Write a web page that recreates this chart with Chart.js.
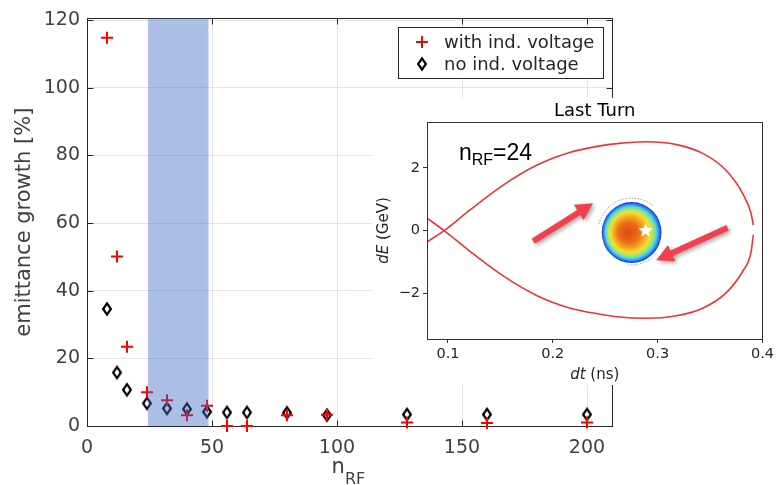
<!DOCTYPE html>
<html>
<head>
<meta charset="utf-8">
<script src="https://cdn.jsdelivr.net/npm/chart.js@4/dist/chart.umd.min.js"></script>
<style>
  body { margin: 0; background: #fff; }
  #wrap { position: relative; width: 777px; height: 485px; background: #fff; }
  #main { position: absolute; left: 0; top: 0; }
  #inset { position: absolute; left: 373px; top: 98px; background: #fff; }
</style>
</head>
<body>
<div id="wrap">
  <canvas id="main" width="777" height="485"></canvas>
  <canvas id="inset" width="404" height="287"></canvas>
</div>
<script>
// ---- emittance growth vs number of RF buckets ----
const nRF = [8, 12, 16, 24, 32, 40, 48, 56, 64, 80, 96, 128, 160, 200];
const withIndVoltage = [114.8, 50.1, 23.4, 10.0, 7.6, 3.2, 6.0, 0, 0, 3.2, 3.3, 1.0, 0.9, 1.0];
const noIndVoltage = [34.6, 15.8, 10.7, 6.7, 5.2, 5.0, 4.2, 4.0, 4.0, 3.9, 3.2, 3.4, 3.4, 3.4];
const bandRange = [24.4, 48.6];
const mainXTicks = [0, 50, 100, 150, 200];
const mainYTicks = [0, 20, 40, 60, 80, 100, 120];

// ---- inset: longitudinal phase space, last turn ----
const sepDt = [0.080, 0.0964, 0.121, 0.153, 0.185, 0.216, 0.245, 0.261, 0.289, 0.318, 0.343, 0.365, 0.381, 0.389, 0.3913];
const sepDeUpper = [-0.36, 0, 0.66, 1.46, 2.09, 2.49, 2.70, 2.77, 2.83, 2.74, 2.46, 1.93, 1.19, 0.56, 0.18];
const sepDeLower = [0.40, 0, -0.66, -1.45, -2.07, -2.46, -2.66, -2.74, -2.79, -2.71, -2.47, -1.99, -1.30, -0.70, -0.13];
const bunchCentre = [0.2752, -0.06];
const bunchRadius = [0.0285, 0.97];
const starPos = [0.2885, 0.0];
const arrowTails = [[0.1813, -0.34], [0.3667, 0.09]];
const arrowHeads = [[0.2384, 0.87], [0.2986, -0.94]];
const insetXTicks = [0.1, 0.2, 0.3, 0.4];
const insetYTicks = [-2, 0, 2];

const AXIS = '#262626';
const LABEL = '#404040';
const FONT = 'DejaVu Sans';

function pts(xs, ys) {
  return xs.map((v, i) => ({ x: v, y: ys[i] }));
}

function diamondPath(ctx, cx, cy) {
  ctx.beginPath();
  ctx.moveTo(cx, cy - 5.6);
  ctx.lineTo(cx + 3.9, cy);
  ctx.lineTo(cx, cy + 5.6);
  ctx.lineTo(cx - 3.9, cy);
  ctx.closePath();
}

// tall diamond marker used as a point style
const diamondImg = document.createElement('canvas');
diamondImg.width = 14;
diamondImg.height = 18;
(function () {
  const c = diamondImg.getContext('2d');
  c.strokeStyle = '#000';
  c.lineWidth = 2.2;
  diamondPath(c, 7, 9);
  c.stroke();
})();

const mainDecor = {
  id: 'mainDecor',
  beforeDatasetsDraw(chart) {
    // box with inward ticks, under the markers
    const { ctx, chartArea: a, scales: { x, y } } = chart;
    ctx.save();
    ctx.strokeStyle = AXIS;
    ctx.lineWidth = 1;
    const L = Math.round(a.left) + 0.5, R = Math.round(a.right) + 0.5;
    const T = Math.round(a.top) + 0.5, B = Math.round(a.bottom) + 0.5;
    ctx.strokeRect(L, T, R - L, B - T);
    ctx.beginPath();
    mainXTicks.forEach(v => {
      const px = Math.round(x.getPixelForValue(v)) + 0.5;
      ctx.moveTo(px, B); ctx.lineTo(px, B - 6);
      ctx.moveTo(px, T); ctx.lineTo(px, T + 6);
    });
    mainYTicks.forEach(v => {
      const py = Math.round(y.getPixelForValue(v)) + 0.5;
      ctx.moveTo(L, py); ctx.lineTo(L + 6, py);
      ctx.moveTo(R, py); ctx.lineTo(R - 6, py);
    });
    ctx.stroke();
    ctx.restore();
  },
  afterDatasetsDraw(chart) {
    const { ctx, chartArea: a, scales: { x } } = chart;

    // shaded n_RF window, drawn over the markers
    ctx.save();
    ctx.filter = 'blur(0.5px)';
    ctx.shadowColor = 'rgba(0,0,0,0.12)';
    ctx.shadowBlur = 4;
    ctx.shadowOffsetY = 3;
    ctx.fillStyle = 'rgba(60,110,210,0.4)';
    const x0 = x.getPixelForValue(bandRange[0]);
    const x1 = x.getPixelForValue(bandRange[1]);
    ctx.fillRect(x0, a.top, x1 - x0, a.bottom - a.top);
    ctx.restore();

    ctx.save();
    // legend
    ctx.strokeStyle = AXIS;
    ctx.lineWidth = 1;
    ctx.fillStyle = '#fff';
    ctx.fillRect(398.5, 27.5, 205, 51);
    ctx.strokeRect(398.5, 27.5, 205, 51);
    ctx.strokeStyle = '#ff0000';
    ctx.lineWidth = 2;
    ctx.beginPath();
    ctx.moveTo(416, 42); ctx.lineTo(428, 42);
    ctx.moveTo(422, 36); ctx.lineTo(422, 48);
    ctx.stroke();
    ctx.strokeStyle = '#000';
    ctx.lineWidth = 2.2;
    diamondPath(ctx, 422, 64);
    ctx.stroke();
    ctx.fillStyle = AXIS;
    ctx.font = '18px "' + FONT + '"';
    ctx.textBaseline = 'alphabetic';
    ctx.textAlign = 'left';
    ctx.fillText('with ind. voltage', 444, 48);
    ctx.fillText('no ind. voltage', 444, 70);

    // x axis title n_RF
    ctx.fillStyle = LABEL;
    ctx.font = '21px "' + FONT + '"';
    ctx.fillText('n', 331.5, 473);
    ctx.font = '16px "' + FONT + '"';
    ctx.fillText('RF', 345, 484);
    ctx.restore();
  }
};

new Chart(document.getElementById('main'), {
  type: 'scatter',
  data: {
    datasets: [
      {
        label: 'with ind. voltage',
        data: pts(nRF, withIndVoltage),
        pointStyle: 'cross',
        pointRadius: 6,
        borderColor: '#ff0000',
        borderWidth: 2,
        clip: false
      },
      {
        label: 'no ind. voltage',
        data: pts(nRF, noIndVoltage),
        pointStyle: diamondImg,
        clip: false
      }
    ]
  },
  options: {
    responsive: false,
    animation: false,
    devicePixelRatio: 1,
    layout: { padding: { left: 0, top: 17, right: 165, bottom: 0 } },
    plugins: { legend: { display: false }, tooltip: { enabled: false } },
    scales: {
      x: {
        type: 'linear',
        min: 0,
        max: 210,
        afterBuildTicks: s => { s.ticks = mainXTicks.map(v => ({ value: v })); },
        afterFit: s => { s.height = 59; },
        grid: { color: '#e4e4e4', drawTicks: false },
        border: { display: false },
        ticks: { color: LABEL, font: { family: FONT, size: 19 }, padding: 11, maxRotation: 0 }
      },
      y: {
        type: 'linear',
        min: 0,
        max: 120.5,
        afterBuildTicks: s => { s.ticks = mainYTicks.map(v => ({ value: v })); },
        afterFit: s => { s.width = 87; },
        grid: { color: '#e4e4e4', drawTicks: false },
        border: { display: false },
        ticks: { color: LABEL, font: { family: FONT, size: 19 }, padding: 7 },
        title: {
          display: true,
          text: 'emittance growth [%]',
          color: LABEL,
          font: { family: FONT, size: 21 },
          padding: { top: 12, bottom: 0 }
        }
      }
    }
  },
  plugins: [mainDecor]
});

function drawArrow(ctx, x0, y0, x1, y1) {
  const ang = Math.atan2(y1 - y0, x1 - x0);
  const len = Math.hypot(x1 - x0, y1 - y0);
  const hl = 17, hw = 9, sw = 3;
  ctx.save();
  ctx.translate(x0, y0);
  ctx.rotate(ang);
  ctx.beginPath();
  ctx.moveTo(0, -sw);
  ctx.lineTo(len - hl, -sw);
  ctx.lineTo(len - hl, -hw);
  ctx.lineTo(len, 0);
  ctx.lineTo(len - hl, hw);
  ctx.lineTo(len - hl, sw);
  ctx.lineTo(0, sw);
  ctx.closePath();
  ctx.fill();
  ctx.restore();
}

function drawStar(ctx, cx, cy, R, r) {
  ctx.beginPath();
  for (let i = 0; i < 10; i++) {
    const rad = i % 2 ? r : R;
    const ang = -Math.PI / 2 + i * Math.PI / 5;
    const px = cx + rad * Math.cos(ang), py = cy + rad * Math.sin(ang);
    i ? ctx.lineTo(px, py) : ctx.moveTo(px, py);
  }
  ctx.closePath();
  ctx.fill();
}

const insetDecor = {
  id: 'insetDecor',
  afterDatasetsDraw(chart) {
    const { ctx, chartArea: a, scales: { x, y } } = chart;
    ctx.save();

    // bunch distribution
    const cx = x.getPixelForValue(bunchCentre[0]);
    const cy = y.getPixelForValue(bunchCentre[1]);
    const rx = x.getPixelForValue(bunchCentre[0] + bunchRadius[0]) - cx;
    const ry = cy - y.getPixelForValue(bunchCentre[1] + bunchRadius[1]);

    // faint halo arcs
    ctx.strokeStyle = 'rgba(40,60,220,0.55)';
    ctx.lineWidth = 1;
    ctx.setLineDash([1.5, 1.5]);
    ctx.beginPath();
    ctx.ellipse(cx, cy, rx + 4, ry + 4, 0, Math.PI * 1.08, Math.PI * 1.72);
    ctx.stroke();
    ctx.beginPath();
    ctx.ellipse(cx, cy, rx + 2, ry + 2, 0, Math.PI * 0.22, Math.PI * 0.55);
    ctx.stroke();
    ctx.setLineDash([]);

    ctx.save();
    ctx.translate(cx, cy);
    ctx.scale(rx, ry);
    const g = ctx.createRadialGradient(-0.15, 0, 0, 0, 0, 1);
    g.addColorStop(0.0, '#e04a12');
    g.addColorStop(0.32, '#ea6a16');
    g.addColorStop(0.52, '#f4a820');
    g.addColorStop(0.66, '#f0e030');
    g.addColorStop(0.76, '#a8e860');
    g.addColorStop(0.85, '#50d4e8');
    g.addColorStop(0.93, '#2888f0');
    g.addColorStop(1.0, '#1a2cd0');
    ctx.fillStyle = g;
    ctx.beginPath();
    ctx.arc(0, 0, 1, 0, Math.PI * 2);
    ctx.fill();
    ctx.restore();

    ctx.fillStyle = '#ffffff';
    drawStar(ctx, x.getPixelForValue(starPos[0]), y.getPixelForValue(starPos[1]), 7.5, 3.2);

    // arrows pointing at the bunch
    ctx.shadowColor = 'rgba(0,0,0,0.35)';
    ctx.shadowBlur = 4;
    ctx.shadowOffsetX = 2;
    ctx.shadowOffsetY = 2;
    ctx.fillStyle = '#f2404e';
    arrowTails.forEach((t, i) => {
      const h = arrowHeads[i];
      drawArrow(ctx, x.getPixelForValue(t[0]), y.getPixelForValue(t[1]),
        x.getPixelForValue(h[0]), y.getPixelForValue(h[1]));
    });
    ctx.shadowColor = 'transparent';

    // frame
    ctx.strokeStyle = '#333';
    ctx.lineWidth = 1;
    const L = Math.round(a.left) + 0.5, R = Math.round(a.right) + 0.5;
    const T = Math.round(a.top) + 0.5, B = Math.round(a.bottom) + 0.5;
    ctx.strokeRect(L, T, R - L, B - T);

    // labels
    ctx.fillStyle = '#000';
    ctx.textBaseline = 'alphabetic';
    ctx.textAlign = 'center';
    ctx.font = '18px "' + FONT + '"';
    ctx.fillText('Last Turn', (a.left + a.right) / 2, 18);

    ctx.textAlign = 'left';
    ctx.font = '23px "Liberation Sans"';
    ctx.fillText('n', 86, 62);
    const nW = ctx.measureText('n').width;
    ctx.font = '16px "Liberation Sans"';
    ctx.fillText('RF', 86 + nW, 67);
    const rfW = ctx.measureText('RF').width;
    ctx.font = '23px "Liberation Sans"';
    ctx.fillText('=24', 86 + nW + rfW, 62);

    ctx.fillStyle = '#262626';
    ctx.font = 'italic 15px "' + FONT + '"';
    const dtW = ctx.measureText('dt').width;
    ctx.font = '15px "' + FONT + '"';
    const nsW = ctx.measureText(' (ns)').width;
    let sx = (a.left + a.right) / 2 - (dtW + nsW) / 2;
    ctx.font = 'italic 15px "' + FONT + '"';
    ctx.fillText('dt', sx, 281);
    ctx.font = '15px "' + FONT + '"';
    ctx.fillText(' (ns)', sx + dtW, 281);

    ctx.save();
    ctx.translate(15, (a.top + a.bottom) / 2);
    ctx.rotate(-Math.PI / 2);
    ctx.font = 'italic 15px "' + FONT + '"';
    const deW = ctx.measureText('dE').width;
    ctx.font = '15px "' + FONT + '"';
    const gevW = ctx.measureText(' (GeV)').width;
    sx = -(deW + gevW) / 2;
    ctx.font = 'italic 15px "' + FONT + '"';
    ctx.fillText('dE', sx, 0);
    ctx.font = '15px "' + FONT + '"';
    ctx.fillText(' (GeV)', sx + deW, 0);
    ctx.restore();

    ctx.restore();
  }
};

new Chart(document.getElementById('inset'), {
  type: 'line',
  data: {
    datasets: [
      { data: pts(sepDt, sepDeUpper) },
      { data: pts(sepDt, sepDeLower) }
    ]
  },
  options: {
    responsive: false,
    animation: false,
    devicePixelRatio: 1,
    layout: { padding: { left: 0, top: 24, right: 14, bottom: 0 } },
    elements: {
      line: { borderColor: '#f03434', borderWidth: 1.6, cubicInterpolationMode: 'monotone', fill: false },
      point: { radius: 0 }
    },
    plugins: { legend: { display: false }, tooltip: { enabled: false } },
    scales: {
      x: {
        type: 'linear',
        min: 0.08,
        max: 0.4,
        afterBuildTicks: s => { s.ticks = insetXTicks.map(v => ({ value: v })); },
        afterFit: s => { s.height = 46; },
        grid: { drawOnChartArea: false, drawTicks: true, tickLength: 4, color: '#333' },
        border: { display: false },
        ticks: {
          color: '#262626',
          font: { family: FONT, size: 14.5 },
          padding: 3,
          maxRotation: 0,
          callback: v => v.toFixed(1)
        }
      },
      y: {
        type: 'linear',
        min: -3.45,
        max: 3.46,
        afterBuildTicks: s => { s.ticks = insetYTicks.map(v => ({ value: v })); },
        afterFit: s => { s.width = 54; },
        grid: { drawOnChartArea: false, drawTicks: true, tickLength: 4, color: '#333' },
        border: { display: false },
        ticks: {
          color: '#262626',
          font: { family: FONT, size: 14.5 },
          padding: 3,
          callback: v => (v < 0 ? '\u2212' + Math.abs(v) : String(v))
        }
      }
    }
  },
  plugins: [insetDecor]
});
</script>
</body>
</html>
